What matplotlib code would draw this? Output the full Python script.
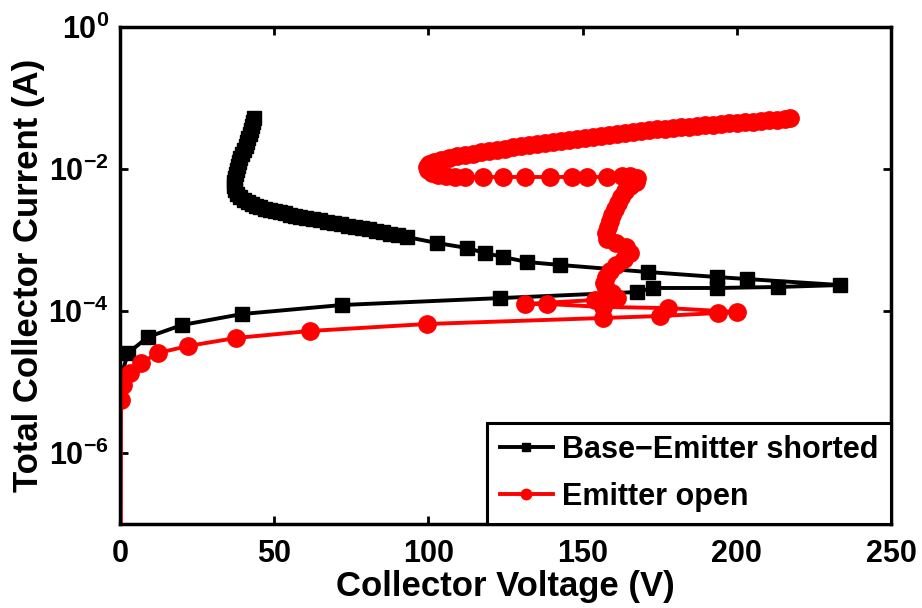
import matplotlib
matplotlib.use("Agg")
import matplotlib.pyplot as plt

plt.rcParams['font.family'] = ['Liberation Sans', 'DejaVu Sans']
plt.rcParams['font.weight'] = 'bold'
plt.rcParams['mathtext.fontset'] = 'custom'
plt.rcParams['mathtext.rm'] = 'Liberation Sans:bold'
plt.rcParams['mathtext.it'] = 'Liberation Sans:bold'
plt.rcParams['mathtext.bf'] = 'Liberation Sans:bold'
plt.rcParams['mathtext.default'] = 'rm'

# Base-Emitter shorted: forward sweep, snapback, then the dense holding branch
be_voltage = [0.3, 2.6, 9.1, 20.1, 39.6, 72.0, 123.2, 167.6, 172.8, 193.6, 213.4, 233.5,
              203.3, 193.6, 171.2, 142.7, 132.0, 124.2, 118.4, 112.5, 102.8, 93.1,
              90.1, 87.6, 85.3, 83.0, 80.7, 78.5, 76.2, 73.9, 71.7, 69.4, 67.1, 64.9,
              62.6, 60.3, 58.4, 56.7, 55.1, 53.5, 51.9, 50.3, 48.6, 47.0, 45.4, 44.1,
              42.8, 41.5, 40.2, 38.9, 37.9, 37.3, 37.0, 37.0, 37.3, 37.6, 37.9, 38.3,
              38.6, 38.9, 39.6, 40.2, 40.9, 41.2, 41.5, 42.2, 42.5, 42.8, 43.1, 43.5]
be_current = [1.18e-5, 2.56e-5, 4.31e-5, 6.35e-5, 9.07e-5, 1.215e-4, 1.52e-4, 1.85e-4,
              2.11e-4, 2.11e-4, 2.18e-4, 2.32e-4,
              2.82e-4, 3.01e-4, 3.54e-4, 4.45e-4, 4.90e-4, 5.76e-4, 6.56e-4, 7.72e-4,
              9.07e-4, 1.10e-3,
              1.18e-3, 1.22e-3, 1.30e-3, 1.34e-3, 1.43e-3, 1.48e-3, 1.52e-3, 1.57e-3,
              1.68e-3, 1.73e-3, 1.79e-3, 1.91e-3, 1.98e-3, 2.04e-3, 2.11e-3, 2.18e-3,
              2.25e-3, 2.40e-3, 2.48e-3, 2.56e-3, 2.65e-3, 2.73e-3, 2.92e-3, 3.01e-3,
              3.21e-3, 3.43e-3, 3.66e-3, 4.03e-3, 4.45e-3, 5.06e-3, 5.76e-3, 6.56e-3,
              7.47e-3, 8.50e-3, 9.68e-3, 0.0110, 0.0126, 0.0143, 0.0163, 0.0185,
              0.0211, 0.0240, 0.0273, 0.0311, 0.0354, 0.0404, 0.0459, 0.0523]

# Emitter open: forward sweep, snapback, rising branch, loop and upper branch
eo_voltage = [0.2, 0.32, 0.97, 3.24, 6.8, 12.3, 22.0, 37.6, 61.6, 99.5, 156.6, 175.1,
              193.9, 200.1,
              177.7, 156.6, 138.5, 131.3, 154.0, 161.2,
              159.5, 157.6, 156.9, 157.6, 158.9, 160.8, 163.4, 165.4, 164.1, 160.8,
              157.9, 157.6, 158.2, 158.9, 159.5, 160.5, 161.5, 162.5, 163.7, 165.4,
              167.3, 167.6, 165.4, 162.8,
              157.9, 151.4, 146.6, 139.4, 131.3, 124.2, 117.7, 111.9,
              108.6, 105.7, 103.1, 101.2, 99.9, 99.5, 100.2, 101.8, 104.1, 106.7, 109.3,
              111.9, 114.5, 117.1, 119.6, 122.2, 124.8, 127.4, 130.0, 132.6, 135.2,
              137.8, 140.4, 143.0, 145.6, 148.2, 150.8, 153.4, 156.0, 158.6, 161.2,
              163.7, 166.3, 168.9, 171.5, 174.1, 176.7, 179.3, 181.9, 184.5, 187.1,
              189.7, 192.3, 194.9, 197.5, 200.1, 202.7, 205.3, 207.8, 210.4, 213.0,
              215.6, 217.2]
eo_current = [1e-9, 5.58e-6, 9.07e-6, 1.34e-5, 1.85e-5, 2.56e-5, 3.21e-5, 4.17e-5,
              5.23e-5, 6.56e-5, 7.97e-5, 8.50e-5, 9.37e-5, 9.68e-5,
              1.10e-4, 1.14e-4, 1.255e-4, 1.255e-4, 1.43e-4, 1.52e-4,
              1.79e-4, 2.11e-4, 2.48e-4, 3.01e-4, 3.66e-4, 4.45e-4, 5.40e-4, 6.56e-4,
              7.97e-4, 9.07e-4, 1.03e-3, 1.26e-3, 1.52e-3, 1.85e-3, 2.25e-3, 2.73e-3,
              3.32e-3, 4.03e-3, 4.90e-3, 5.76e-3, 6.56e-3, 7.47e-3, 7.97e-3, 7.97e-3,
              7.72e-3, 7.72e-3, 7.72e-3, 7.72e-3, 7.72e-3, 7.72e-3, 7.72e-3, 7.72e-3,
              7.72e-3, 7.97e-3, 8.23e-3, 8.78e-3, 9.68e-3, 0.0107, 0.0118, 0.0126,
              0.0134, 0.0143, 0.0152,
              0.0157, 0.0163, 0.01735, 0.0179, 0.0185, 0.0191, 0.0204, 0.0211, 0.0218,
              0.0225, 0.0232, 0.0240, 0.0248, 0.0256, 0.0265, 0.0273, 0.0282, 0.0292,
              0.0301, 0.0311, 0.0321, 0.0332, 0.0343, 0.0354, 0.0366, 0.0366, 0.0378,
              0.0391, 0.0391, 0.0404, 0.0417, 0.0417, 0.0430, 0.0445, 0.0445, 0.0459,
              0.0459, 0.0474, 0.0490, 0.0490, 0.0506, 0.0523]

series_labels = ['Base\u2212Emitter shorted', 'Emitter open']
x_ticks = [0, 50, 100, 150, 200, 250]
y_ticks = [1e-6, 1e-4, 1e-2, 1e0]
y_tick_labels = [r'$10^{-6}$', r'$10^{-4}$', r'$10^{-2}$', r'$10^{0}$']

fig = plt.figure(figsize=(9.22, 6.08), dpi=100)
ax = fig.add_axes([120 / 922, 1 - 524 / 608, 771 / 922, 497 / 608])

ax.plot(be_voltage, be_current, color='black', lw=2.8, marker='s', ms=10.5,
        label=series_labels[0])
ax.plot(eo_voltage, eo_current, color='#ff0000', lw=2.8, marker='o', ms=12.5,
        label=series_labels[1])

ax.set_yscale('log')
ax.set_xlim(0, 250)
ax.set_ylim(1e-7, 1e0)
ax.set_xticks(x_ticks)
ax.set_xticklabels([str(t) for t in x_ticks])
ax.set_yticks(y_ticks)
ax.set_yticklabels(y_tick_labels)
ax.yaxis.set_minor_locator(matplotlib.ticker.NullLocator())

ax.tick_params(axis='both', which='major', direction='in', length=6, width=2,
               top=True, right=True, labelsize=22)
ax.tick_params(axis='x', pad=11)
ax.tick_params(axis='y', pad=8)
for sp in ax.spines.values():
    sp.set_linewidth(2.5)

ax.set_xlabel('Collector Voltage (V)', fontsize=25, fontweight='bold')
ax.set_ylabel('Total Collector Current (A)', fontsize=25, fontweight='bold')
ax.xaxis.set_label_coords(0.5, -0.092)
ax.yaxis.set_label_coords(-0.097, 0.5)

leg = ax.legend(loc='lower right', bbox_to_anchor=(1, 0), borderaxespad=0,
                fontsize=22, markerscale=0.6, handlelength=1.75,
                handletextpad=0.3, labelspacing=0.55, borderpad=0.4,
                fancybox=False, framealpha=1)
leg.get_frame().set_edgecolor('black')
leg.get_frame().set_linewidth(2.2)
for t in leg.get_texts():
    t.set_fontweight('bold')

fig.savefig('out.png', dpi=100)
